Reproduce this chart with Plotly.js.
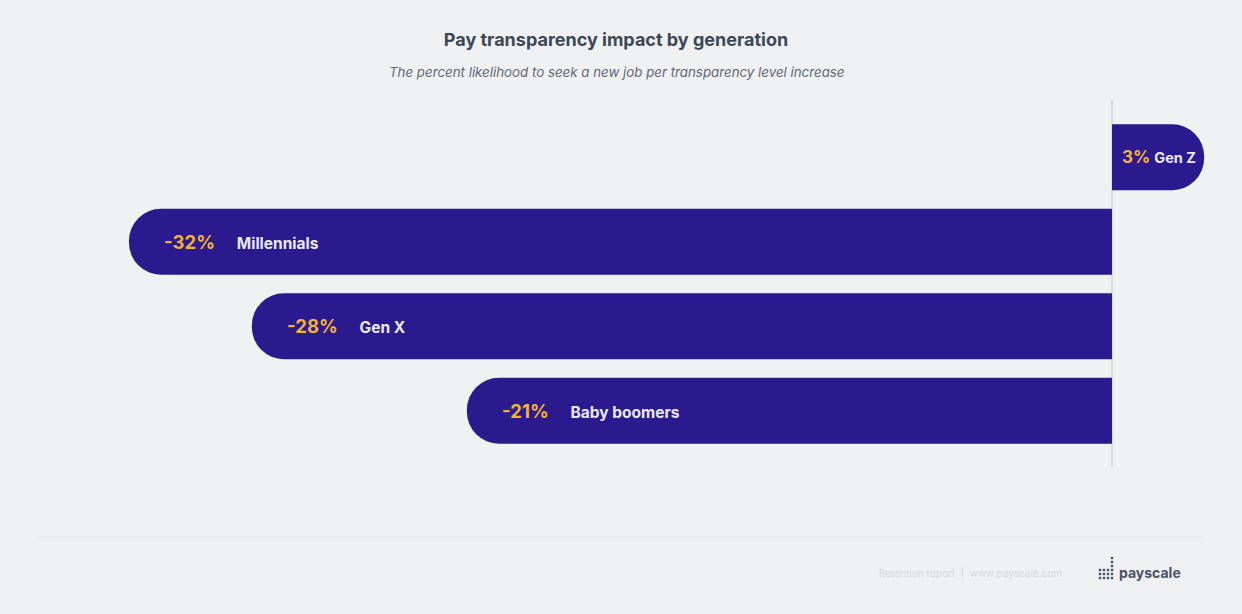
<!DOCTYPE html>
<html>
<head>
<meta charset="utf-8">
<script src="https://cdn.plot.ly/plotly-3.0.1.min.js"></script>
<style>
  html, body { margin: 0; padding: 0; background: #f0f1f3; }
  #chart { width: 1242px; height: 614px; }
</style>
</head>
<body>
<div id="chart"></div>
<script>
// ---- data ----
const generations = ["Gen Z", "Millennials", "Gen X", "Baby boomers"];
const impactPct = [3, -32, -28, -21];
const titleText = "Pay transparency impact by generation";
const subtitleText = "The percent likelihood to seek a new job per transparency level increase";
const footerText = "Retention report  |  www.payscale.com";
const brandText = "payscale";

// ---- layout geometry ----
const W = 1242, H = 614;
const M = { l: 97, r: 0, t: 115, b: 161 };
const PW = W - M.l - M.r, PH = H - M.t - M.b;
const px2x = p => (p - M.l) / PW;
const px2y = p => (H - M.b - p) / PH;

const barColor = "#2a1a8e";
const pctColor = "#f2b233";
const nameColor = "#ebe9f7";

const trace = {
  type: "bar",
  orientation: "h",
  y: generations,
  x: impactPct,
  marker: { color: barColor, cornerradius: "50%", line: { width: 0 } },
  hoverinfo: "skip"
};

const annotations = generations.map((g, i) => {
  const v = impactPct[i];
  const neg = v < 0;
  return {
    x: neg ? v : 0, y: g, xref: "x", yref: "y",
    xanchor: "left", yanchor: "middle",
    xshift: neg ? 33 : 8,
    showarrow: false,
    text: "<b><span style='color:" + pctColor + ";font-size:" + (neg ? 18.5 : 17) + "px'>" + v + "%</span></b>" +
          (neg ? "&nbsp;&nbsp;&nbsp;&nbsp;&nbsp;" : "&nbsp;") +
          "<b>" + g + "</b>",
    font: { family: "Inter, sans-serif", size: neg ? 15.5 : 14.5, color: nameColor }
  };
});

annotations.push({
  xref: "paper", yref: "paper", x: px2x(970), y: px2y(573),
  xanchor: "center", yanchor: "middle", showarrow: false,
  text: footerText,
  font: { family: "Inter, sans-serif", size: 10, color: "#d6d9de" }
});
annotations.push({
  xref: "paper", yref: "paper", x: px2x(1117), y: px2y(572),
  xanchor: "left", yanchor: "middle", showarrow: false,
  text: "<b>" + brandText + "</b>",
  font: { family: "Inter, sans-serif", size: 14, color: "#4a5466" }
});

const shapes = [
  { type: "line", layer: "below", xref: "x", yref: "paper", x0: 0, x1: 0,
    y0: px2y(467), y1: px2y(100), line: { color: "#d9dce1", width: 2 } },
  { type: "line", layer: "below", xref: "paper", yref: "paper",
    x0: px2x(38), x1: px2x(1205), y0: px2y(537), y1: px2y(537),
    line: { color: "#e8e9ec", width: 1.5 } }
];
// logo dot icon
const dotCols = [[1100, 3], [1104, 3], [1108, 3], [1112, 6]];
dotCols.forEach(([cx, n]) => {
  for (let k = 0; k < n; k++) {
    const cy = 578 - k * 4;
    shapes.push({ type: "rect", xref: "paper", yref: "paper",
      x0: px2x(cx - 1.2), x1: px2x(cx + 1.2), y0: px2y(cy + 1.2), y1: px2y(cy - 1.2),
      fillcolor: "#4a5466", line: { width: 0 } });
  }
});

const layout = {
  width: W, height: H, autosize: false,
  paper_bgcolor: "#f0f1f3", plot_bgcolor: "rgba(0,0,0,0)",
  margin: M,
  showlegend: false,
  bargap: 0.22,
  title: {
    text: "<b>" + titleText + "</b>",
    xref: "container", yref: "container", x: 616 / W, y: 1 - 40 / H,
    xanchor: "center", yanchor: "middle",
    font: { family: "Inter, sans-serif", size: 18, color: "#3c4858" }
  },
  xaxis: { range: [(M.l - 1112) / 30.72, (W - M.r - 1112) / 30.72], visible: false, fixedrange: true },
  yaxis: { type: "category", categoryorder: "array", categoryarray: generations,
           range: [3.5, -0.5], visible: false, fixedrange: true },
  annotations: annotations.concat([{
    xref: "paper", yref: "paper", x: px2x(616), y: px2y(72),
    xanchor: "center", yanchor: "middle", showarrow: false,
    text: "<i>" + subtitleText + "</i>",
    font: { family: "Inter, sans-serif", size: 13.3, color: "#5f6877" }
  }]),
  shapes: shapes
};

Plotly.newPlot("chart", [trace], layout, { displayModeBar: false, staticPlot: true });
</script>
</body>
</html>
